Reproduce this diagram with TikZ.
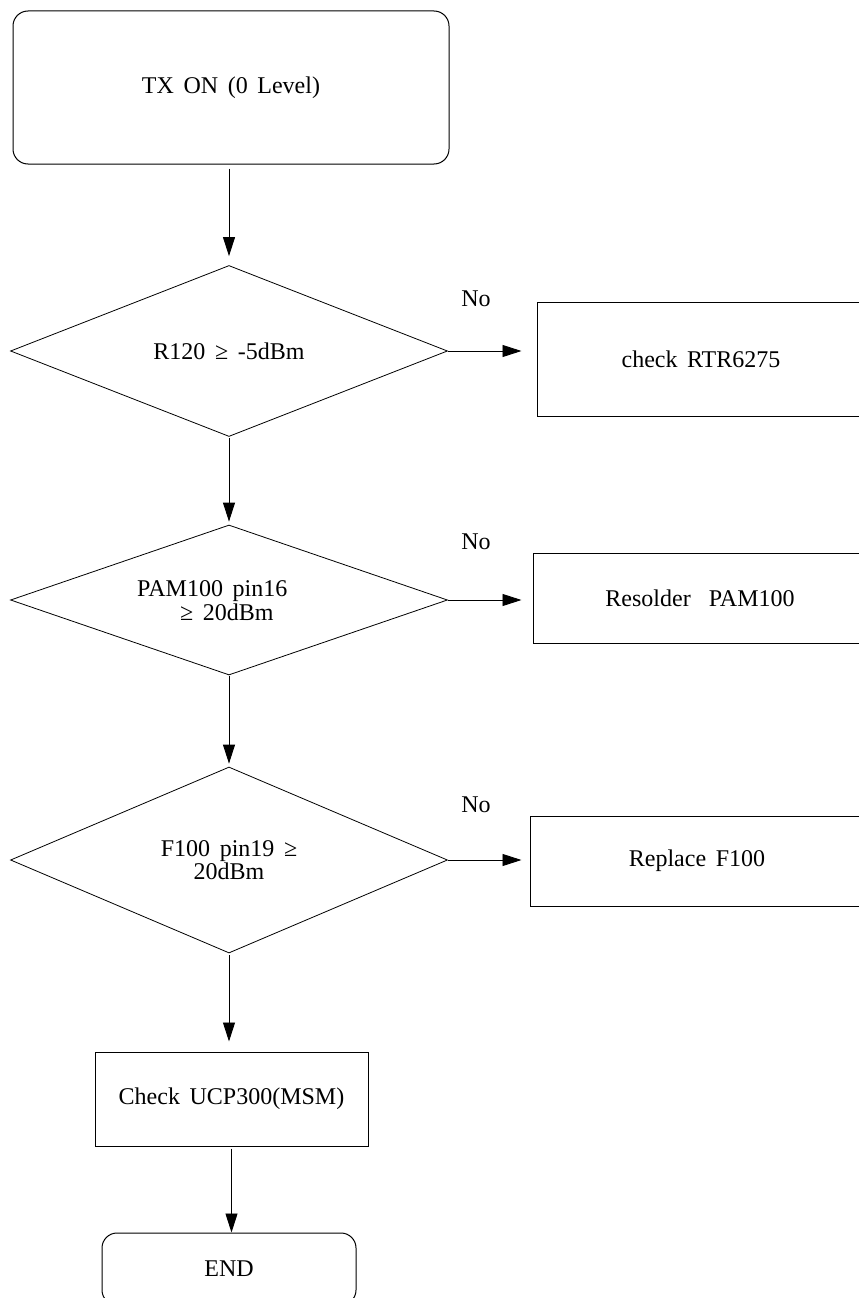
\documentclass[tikz,border=0pt]{standalone}
\usepackage{fontspec}
\setmainfont{Liberation Serif}[WordSpace=1.6]
\usetikzlibrary{shapes.geometric, arrows.meta}
\tikzset{
  every node/.style={font=\fontsize{24}{23}\selectfont, inner sep=0pt},
  rbox/.style={draw, rounded corners=15pt, line width=1pt},
  sbox/.style={draw, line width=1pt},
  dia/.style={draw, diamond, line width=0.8pt},
  arr/.style={-{Triangle[length=19pt,width=12pt]}, line width=0.9pt},
  lbl/.style={}
}
\begin{document}
\begin{tikzpicture}[x=1pt,y=-1pt]
\useasboundingbox (0,0) rectangle (859,1298);
\node[rbox, minimum width=436pt, minimum height=153pt] (start) at (231,87.5) {\raisebox{-3pt}{TX ON (0 Level)}};
\node[dia, minimum width=437pt, minimum height=171pt] (d1) at (229,351) {R120 ≥ -5dBm};
\node[sbox, minimum width=328pt, minimum height=114pt] (b1) at (701,359) {check RTR6275};
\node[dia, minimum width=437pt, minimum height=150pt] (d2) at (229,600) {};
\node[lbl, anchor=base west] (t2a) at (137,596) {PAM100 pin16};
\node[lbl, anchor=base west] (t2b) at (180,620) {≥ 20dBm};
\node[sbox, minimum width=334pt, minimum height=90pt] (b2) at (700,598) {Resolder\hspace{18pt}PAM100};
\node[dia, minimum width=437pt, minimum height=186pt, align=center] (d3) at (229,860) {F100 pin19 ≥\\20dBm};
\node[sbox, minimum width=334pt, minimum height=90pt] (b3) at (697,861) {Replace F100};
\node[sbox, minimum width=273pt, minimum height=94pt] (chk) at (231.5,1099) {Check UCP300(MSM)};
\node[rbox, minimum width=254pt, minimum height=72pt] (end) at (229,1269) {END};
\node[lbl] (no1) at (476,299) {No};
\node[lbl] (no2) at (476,542) {No};
\node[lbl] (no3) at (476,804.5) {No};
\draw[arr, shorten <=4pt, shorten >=9pt] (d1.north |- start.south) -- (d1.north);
\draw[arr, shorten <=1pt, shorten >=3pt] (d1.south) -- (d2.north);
\draw[arr, shorten <=1pt, shorten >=3pt] (d2.south) -- (d3.north);
\draw[arr, shorten <=2pt, shorten >=10pt] (d3.south) -- (d3.south |- chk.north);
\draw[arr, shorten <=2pt] (chk.south) -- (chk.south |- end.north);
\draw[arr, shorten >=15pt] (d1.east) -- (d1.east -| b1.west);
\draw[arr, shorten >=11pt] (d2.east) -- (d2.east -| b2.west);
\draw[arr, shorten >=8pt] (d3.east) -- (d3.east -| b3.west);
\end{tikzpicture}
\end{document}
